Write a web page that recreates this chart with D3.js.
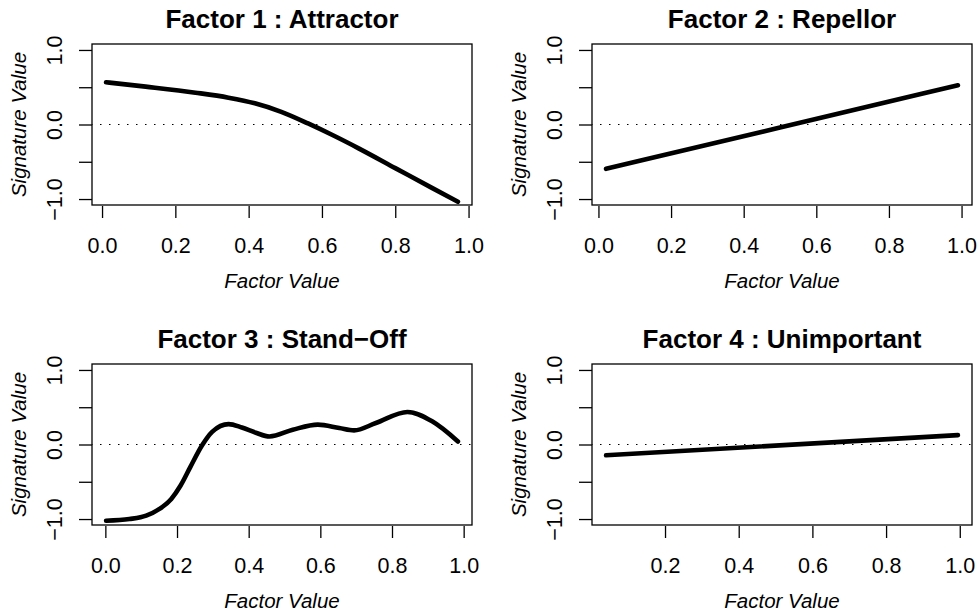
<!DOCTYPE html>
<html lang="en">
<head>
<meta charset="UTF-8">
<title>Factor signatures</title>
<script src="https://d3js.org/d3.v7.min.js"></script>
<style>
  body { margin: 0; background: #fff; }
  svg { display: block; font-family: "Liberation Sans", Arial, Helvetica, sans-serif; }
</style>
</head>
<body>
<svg width="979" height="613"></svg>
<script>
// panel titles
const titles = ["Factor 1 : Attractor", "Factor 2 : Repellor", "Factor 3 : Stand\u2212Off", "Factor 4 : Unimportant"];

// curves (factor value -> signature value)
const f1x = [0.011, 0.119, 0.255, 0.345, 0.417, 0.489, 0.562, 0.63, 0.7, 0.8, 0.9, 0.971];
const f1y = [0.567, 0.508, 0.427, 0.36, 0.284, 0.17, 0.014, -0.145, -0.32, -0.585, -0.85, -1.036];

const f2x = [0.021, 0.5, 0.99];
const f2y = [-0.595, -0.04, 0.527];

const f3x = [0.002, 0.067, 0.114, 0.151, 0.184, 0.21, 0.237, 0.27, 0.298, 0.344, 0.381, 0.42, 0.458, 0.523, 0.593, 0.653, 0.694, 0.755, 0.843, 0.912, 0.984];
const f3y = [-1.023, -1.0, -0.955, -0.865, -0.73, -0.55, -0.303, -0.01, 0.17, 0.274, 0.228, 0.158, 0.108, 0.198, 0.266, 0.221, 0.189, 0.288, 0.437, 0.311, 0.041];

const f4x = [0.04, 0.995];
const f4y = [-0.145, 0.126];

// axis ticks
const xTicksFull = [0, 0.2, 0.4, 0.6, 0.8, 1.0];
const xTicksF4 = [0.2, 0.4, 0.6, 0.8, 1.0];
const yTicks = [-1, -0.5, 0, 0.5, 1];
const yLabelled = [-1, 0, 1];
const yLim = [-1, 1];

const xs = [f1x, f2x, f3x, f4x];
const ys = [f1y, f2y, f3y, f4y];
const xTickSets = [xTicksFull, xTicksFull, xTicksFull, xTicksF4];

const svg = d3.select("svg");
svg.append("rect").attr("width", 979).attr("height", 613).attr("fill", "#fff");

const colLeft = [92, 592];
const rowTop = [44, 364];
const boxW = 380, boxH = 161;
const fmt = d3.format(".1f");

// R style 4% range extension
function extend(lo, hi) {
  const pad = (hi - lo) * 0.04;
  return [lo - pad, hi + pad];
}

titles.forEach((title, i) => {
  const left = colLeft[i % 2], top = rowTop[Math.floor(i / 2)];
  const right = left + boxW, bottom = top + boxH;
  const g = svg.append("g");

  const x = d3.scaleLinear().domain(extend(d3.min(xs[i]), d3.max(xs[i]))).range([left, right]);
  const y = d3.scaleLinear().domain(extend(yLim[0], yLim[1])).range([bottom, top]);

  // dotted zero line
  g.append("line")
    .attr("x1", left).attr("x2", right)
    .attr("y1", y(0)).attr("y2", y(0))
    .attr("stroke", "#000").attr("stroke-width", 1)
    .attr("stroke-dasharray", "1.5,7.5")
    .attr("stroke-dashoffset", -8);

  // curve
  const pts = xs[i].map((v, k) => [v, ys[i][k]]);
  g.append("path")
    .datum(pts)
    .attr("fill", "none")
    .attr("stroke", "#000")
    .attr("stroke-width", 4.6)
    .attr("stroke-linecap", "round")
    .attr("stroke-linejoin", "round")
    .attr("d", d3.line().x(d => x(d[0])).y(d => y(d[1])).curve(d3.curveMonotoneX));

  // box
  g.append("rect")
    .attr("x", left).attr("y", top)
    .attr("width", boxW).attr("height", boxH)
    .attr("fill", "none").attr("stroke", "#000").attr("stroke-width", 1.3);

  // x axis
  const xa = g.append("g")
    .attr("transform", `translate(0,${bottom + 1})`)
    .call(d3.axisBottom(x).tickValues(xTickSets[i]).tickSize(12).tickFormat(fmt));
  xa.select(".domain").remove();
  xa.selectAll("line").attr("stroke-width", 1.3);
  xa.selectAll("text")
    .attr("y", 47).attr("dy", null)
    .attr("font-size", 21.5).attr("fill", "#000");

  // y axis
  const ya = g.append("g")
    .attr("transform", `translate(${left},0)`)
    .call(d3.axisLeft(y).tickValues(yTicks).tickSize(13)
      .tickFormat(d => yLabelled.includes(d) ? fmt(d) : ""));
  ya.select(".domain").remove();
  ya.selectAll("line").attr("stroke-width", 1.3);
  ya.selectAll("text")
    .attr("transform", "rotate(-90)")
    .attr("x", 0).attr("y", -30).attr("dy", null)
    .attr("text-anchor", "middle")
    .attr("font-size", 21.5).attr("fill", "#000");

  // labels
  g.append("text")
    .attr("x", (left + right) / 2).attr("y", top - 16)
    .attr("text-anchor", "middle")
    .attr("font-weight", "bold").attr("font-size", 26)
    .text(title);

  g.append("text")
    .attr("x", (left + right) / 2).attr("y", bottom + 83)
    .attr("text-anchor", "middle")
    .attr("font-style", "italic").attr("font-size", 20.5)
    .text("Factor Value");

  g.append("text")
    .attr("transform", `translate(${left - 66},${(top + bottom) / 2}) rotate(-90)`)
    .attr("text-anchor", "middle")
    .attr("font-style", "italic").attr("font-size", 20.5)
    .text("Signature Value");
});
</script>
</body>
</html>
